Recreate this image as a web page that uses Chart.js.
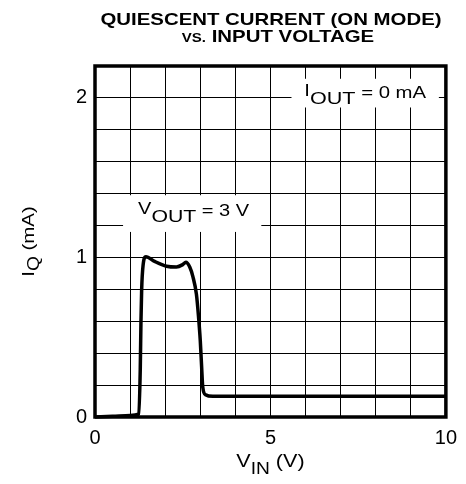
<!DOCTYPE html>
<html>
<head>
<meta charset="utf-8">
<script src="https://cdn.jsdelivr.net/npm/chart.js@4"></script>
<style>
  html, body { margin: 0; padding: 0; background: #fff; }
  canvas { display: block; }
</style>
</head>
<body>
<canvas id="iqChart" width="466" height="484"></canvas>
<script>
// curve: input voltage (V) vs quiescent current (mA)
const vin = [0, 0.5, 1.0, 1.25, 1.29, 1.31, 1.33, 1.37, 1.45, 1.7, 2.04, 2.32, 2.5, 2.59, 2.7, 2.79, 2.89, 2.95, 3.0, 3.04, 3.07, 3.15, 3.36, 5, 7.5, 10];
const iq  = [0, 0.004, 0.01, 0.018, 0.3, 0.6, 0.8, 0.95, 1.005, 0.975, 0.945, 0.94, 0.955, 0.97, 0.94, 0.88, 0.77, 0.63, 0.48, 0.31, 0.19, 0.14, 0.13, 0.13, 0.13, 0.13];

const xTickLabels = [0, 5, 10];
const yTickLabels = [0, 1, 2];

const FONT = "'Liberation Sans', Arial, Helvetica, sans-serif";
const SX = 1.22; // the original lettering is a bit wide

// draws a run of text pieces (for subscripts) centred on cx
function drawRich(ctx, parts, cx, baseline, sx) {
    let w = 0;
    parts.forEach(p => {
        ctx.font = (p.bold ? 'bold ' : '') + p.size + 'px ' + FONT;
        p.w = ctx.measureText(p.t).width;
        w += p.w;
    });
    ctx.save();
    ctx.translate(cx - w * sx / 2, baseline);
    ctx.scale(sx, 1);
    ctx.fillStyle = '#000';
    ctx.textBaseline = 'alphabetic';
    ctx.textAlign = 'left';
    let x = 0;
    parts.forEach(p => {
        ctx.font = (p.bold ? 'bold ' : '') + p.size + 'px ' + FONT;
        ctx.fillText(p.t, x, p.dy || 0);
        x += p.w;
    });
    ctx.restore();
}

const labelsPlugin = {
    id: 'labels',
    beforeDatasetsDraw(chart) {
        const ctx = chart.ctx;
        const xs = chart.scales.x, ys = chart.scales.y;
        // white boxes behind the in-plot notes
        ctx.save();
        ctx.fillStyle = '#fff';
        [[0.8, 4.74, 1.16, 1.39], [5.6, 9.8, 1.94, 2.12]].forEach(b => {
            const x0 = xs.getPixelForValue(b[0]), x1 = xs.getPixelForValue(b[1]);
            const y0 = ys.getPixelForValue(b[3]), y1 = ys.getPixelForValue(b[2]);
            ctx.fillRect(x0, y0, x1 - x0, y1 - y0);
        });
        ctx.restore();
    },
    afterDraw(chart) {
        const ctx = chart.ctx;
        const a = chart.chartArea;
        const xs = chart.scales.x, ys = chart.scales.y;

        // frame
        ctx.save();
        ctx.strokeStyle = '#000';
        ctx.lineWidth = 3.5;
        ctx.strokeRect(a.left, a.top, a.right - a.left, a.bottom - a.top);
        ctx.restore();

        // title
        drawRich(ctx, [{ t: 'QUIESCENT CURRENT (ON MODE)', size: 17, bold: true }], 271, 25, 1.2);
        drawRich(ctx, [
            { t: 'VS.', size: 12.5, bold: true },
            { t: ' INPUT VOLTAGE', size: 17, bold: true }
        ], 278, 41.5, 1.2);

        // notes
        drawRich(ctx, [
            { t: 'V', size: 16, dy: -2 },
            { t: 'OUT', size: 17, dy: 6.5 },
            { t: ' = 3 V', size: 16 }
        ], xs.getPixelForValue(2.81), ys.getPixelForValue(1.2625), 1.25);
        drawRich(ctx, [
            { t: 'I', size: 16, dy: -1.5 },
            { t: 'OUT', size: 17, dy: 5.7 },
            { t: ' = 0 mA', size: 16 }
        ], xs.getPixelForValue(7.7), ys.getPixelForValue(2.0), 1.27);

        // axis titles
        drawRich(ctx, [
            { t: 'V', size: 18 },
            { t: 'IN', size: 16, dy: 7 },
            { t: ' (V)', size: 18 }
        ], (a.left + a.right) / 2, 467, 1.2);

        ctx.save();
        ctx.translate(34, (a.top + a.bottom) / 2);
        ctx.rotate(-Math.PI / 2);
        drawRich(ctx, [
            { t: 'I', size: 17 },
            { t: 'Q', size: 16, dy: 5 },
            { t: ' (mA)', size: 17 }
        ], 0, 0, 1.2);
        ctx.restore();
    }
};

const ctx = document.getElementById('iqChart');

new Chart(ctx, {
    type: 'line',
    data: {
        datasets: [{
            data: vin.map((v, i) => ({ x: v, y: iq[i] })),
            borderColor: '#000',
            borderWidth: 3.5,
            pointRadius: 0,
            cubicInterpolationMode: 'monotone',
            clip: false
        }]
    },
    options: {
        responsive: false,
        animation: false,
        layout: { padding: { top: 66, right: 19, left: 0, bottom: 0 } },
        plugins: {
            legend: { display: false },
            tooltip: { enabled: false }
        },
        scales: {
            x: {
                type: 'linear',
                min: 0,
                max: 10,
                afterFit: s => { s.height = 67; },
                grid: { color: '#000', lineWidth: 1, drawTicks: false },
                border: { display: false },
                ticks: {
                    stepSize: 1,
                    padding: 9,
                    color: '#000',
                    maxRotation: 0,
                    autoSkip: false,
                    font: { family: FONT, size: 20 },
                    callback: v => xTickLabels.includes(v) ? String(v) : ''
                }
            },
            y: {
                type: 'linear',
                min: 0,
                max: 2.2,
                afterFit: s => { s.width = 95; },
                grid: { color: '#000', lineWidth: 1, drawTicks: false },
                border: { display: false },
                ticks: {
                    stepSize: 0.2,
                    padding: 8,
                    color: '#000',
                    autoSkip: false,
                    font: { family: FONT, size: 20 },
                    callback: v => {
                        const r = Math.round(v);
                        return (Math.abs(v - r) < 1e-6 && yTickLabels.includes(r)) ? String(r) : '';
                    }
                }
            }
        }
    },
    plugins: [labelsPlugin]
});
</script>
</body>
</html>
